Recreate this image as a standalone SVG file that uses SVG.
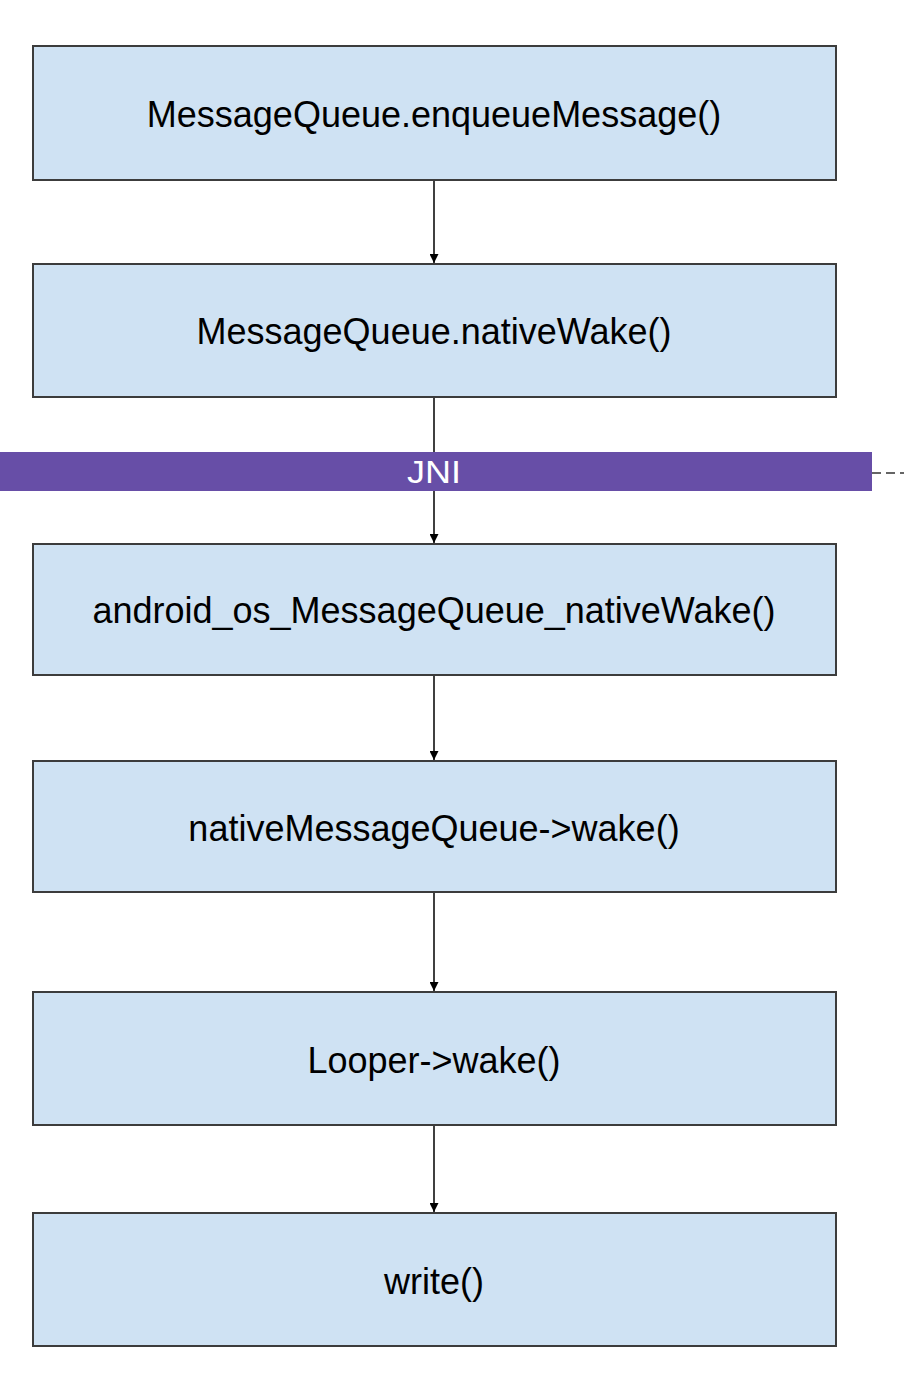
<svg xmlns="http://www.w3.org/2000/svg" width="904" height="1376" viewBox="0 0 904 1376">
<defs>
<style>
.box{fill:#cfe2f3;stroke:#3c3c3c;stroke-width:2}
.lbl{font-family:"Liberation Sans",Arial,sans-serif;font-size:36px;fill:#000;text-anchor:middle;dominant-baseline:central}
.conn{stroke:#000;stroke-width:1.5;fill:none}
</style>
<marker id="ah" viewBox="0 0 10 10" refX="10" refY="5" markerWidth="9" markerHeight="9" orient="auto" markerUnits="userSpaceOnUse">
<path d="M0,0 L10,5 L0,10 z" fill="#000"/>
</marker>
</defs>
<rect width="904" height="1376" fill="#fff"/>
<g id="connectors">
<line class="conn" x1="434" y1="180" x2="434" y2="263" marker-end="url(#ah)"/>
<line class="conn" x1="434" y1="397" x2="434" y2="543" marker-end="url(#ah)"/>
<line class="conn" x1="434" y1="675" x2="434" y2="760" marker-end="url(#ah)"/>
<line class="conn" x1="434" y1="892" x2="434" y2="991" marker-end="url(#ah)"/>
<line class="conn" x1="434" y1="1125" x2="434" y2="1212" marker-end="url(#ah)"/>
<line x1="872" y1="473" x2="904" y2="473" stroke="#333" stroke-width="1.5" stroke-dasharray="9,5"/>
</g>
<g id="jni">
<rect x="0" y="452" width="872" height="39" fill="#674ea7"/>
<text x="434" y="472" class="lbl" style="fill:#fff;font-size:32px" textLength="54" lengthAdjust="spacingAndGlyphs">JNI</text>
</g>
<g id="n1"><rect class="box" x="33" y="46" width="803" height="134"/><text class="lbl" x="434" y="114">MessageQueue.enqueueMessage()</text></g>
<g id="n2"><rect class="box" x="33" y="264" width="803" height="133"/><text class="lbl" x="434" y="331">MessageQueue.nativeWake()</text></g>
<g id="n3"><rect class="box" x="33" y="544" width="803" height="131"/><text class="lbl" x="434" y="610">android_os_MessageQueue_nativeWake()</text></g>
<g id="n4"><rect class="box" x="33" y="761" width="803" height="131"/><text class="lbl" x="434" y="828">nativeMessageQueue-&gt;wake()</text></g>
<g id="n5"><rect class="box" x="33" y="992" width="803" height="133"/><text class="lbl" x="434" y="1060">Looper-&gt;wake()</text></g>
<g id="n6"><rect class="box" x="33" y="1213" width="803" height="133"/><text class="lbl" x="434" y="1281">write()</text></g>
</svg>
